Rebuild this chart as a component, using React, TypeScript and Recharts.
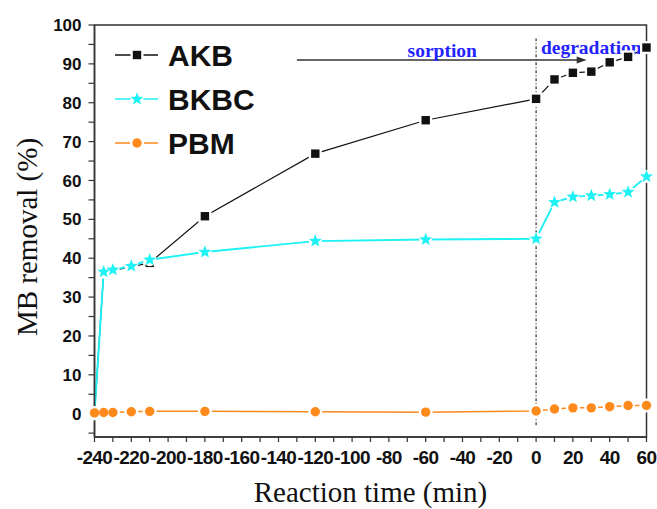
import React from 'react'
import {
  Legend,
  Line,
  LineChart,
  ReferenceArea,
  ReferenceDot,
  ReferenceLine,
  XAxis,
  YAxis,
} from 'recharts'

// reaction time (min), negative = sorption in the dark, positive = degradation
const times = [-240, -235, -230, -220, -210, -180, -120, -60, 0, 10, 20, 30, 40, 50, 60]
const akb = [0, 36.5, 36.8, 37.8, 38.8, 50.8, 66.9, 75.5, 81, 86, 87.7, 88, 90.4, 91.8, 94.2]
const bkbc = [0, 36.5, 37, 38, 39.6, 41.6, 44.4, 44.8, 45, 54.4, 55.8, 56.1, 56.4, 57, 61]
const pbm = [0.2, 0.3, 0.3, 0.5, 0.6, 0.6, 0.5, 0.4, 0.7, 1.2, 1.5, 1.5, 1.8, 2.1, 2.1]

const xTicks = [-240, -230, -220, -210, -200, -190, -180, -170, -160, -150, -140, -130, -120, -110, -100, -90, -80, -70, -60, -50, -40, -30, -20, -10, 0, 10, 20, 30, 40, 50, 60]
const yTicks = [-5, 0, 5, 10, 15, 20, 25, 30, 35, 40, 45, 50, 55, 60, 65, 70, 75, 80, 85, 90, 95, 100]

const data = times.map((t, i) => ({ t, AKB: akb[i], BKBC: bkbc[i], PBM: pbm[i] }))

type Shape = 'square' | 'star' | 'circle'

const SERIES: { key: string; color: string; shape: Shape; width: number }[] = [
  { key: 'AKB', color: '#111111', shape: 'square', width: 1.2 },
  { key: 'BKBC', color: '#1ef2f5', shape: 'star', width: 1.9 },
  { key: 'PBM', color: '#ff8a1c', shape: 'circle', width: 1.5 },
]
const shapeOf: Record<string, Shape> = { AKB: 'square', BKBC: 'star', PBM: 'circle' }

const AXIS = '#333'
const TICK_FONT = { fill: '#111', fontSize: 17, fontWeight: 700, fontFamily: 'Liberation Sans, Arial, sans-serif' }
const SERIF = 'Liberation Serif, Times New Roman, serif'

function starPoints(cx: number, cy: number, R: number, r: number) {
  const pts: string[] = []
  for (let k = 0; k < 10; k++) {
    const a = -Math.PI / 2 + (k * Math.PI) / 5
    const rad = k % 2 === 0 ? R : r
    pts.push(`${cx + rad * Math.cos(a)},${cy + rad * Math.sin(a)}`)
  }
  return pts.join(' ')
}

function Halo({ shape, cx, cy }: { shape: Shape; cx: number; cy: number }) {
  if (shape === 'square') return <rect x={cx - 6.5} y={cy - 6.5} width={13} height={13} fill="#fff" />
  return <circle cx={cx} cy={cy} r={shape === 'star' ? 6.5 : 7} fill="#fff" />
}

function Marker({ shape, cx, cy, color }: { shape: Shape; cx: number; cy: number; color: string }) {
  if (shape === 'square') return <rect x={cx - 4.2} y={cy - 4.2} width={8.4} height={8.4} fill={color} />
  if (shape === 'star') return <polygon points={starPoints(cx, cy, 6.8, 2.9)} fill={color} />
  return <circle cx={cx} cy={cy} r={4.7} fill={color} />
}

const haloDot = (shape: Shape) => (p: any) => {
  if (p.cx == null || p.cy == null || p.value == null) return <g key={`h-${p.index}`} />
  return <Halo key={`h-${p.index}`} shape={shape} cx={p.cx} cy={p.cy} />
}

const markerDot = (shape: Shape, color: string) => (p: any) => {
  if (p.cx == null || p.cy == null || p.value == null) return <g key={`m-${p.index}`} />
  return <Marker key={`m-${p.index}`} shape={shape} cx={p.cx} cy={p.cy} color={color} />
}

function LegendBox({ payload }: any) {
  const seen = new Set<string>()
  const items = (payload || []).filter((e: any) => {
    if (!shapeOf[e.value] || e.type === 'none' || e.color === 'none' || seen.has(e.value)) return false
    seen.add(e.value)
    return true
  })
  return (
    <svg width={160} height={125}>
      {items.map((e: any, i: number) => {
        const y = 20 + i * 44
        return (
          <g key={e.value}>
            <line x1={5} x2={48} y1={y} y2={y} stroke={e.color} strokeWidth={1.5} />
            <Halo shape={shapeOf[e.value]} cx={27} cy={y} />
            <Marker shape={shapeOf[e.value]} cx={27} cy={y} color={e.color} />
            <text
              x={58}
              y={y + 11}
              fontSize={30}
              fontWeight={700}
              fontFamily="Liberation Sans, Arial, sans-serif"
              fill="#111"
            >
              {e.value}
            </text>
          </g>
        )
      })}
    </svg>
  )
}

function Arrow(p: any) {
  const { x1, y1, x2, y2 } = p
  return (
    <g>
      <line x1={x1} y1={y1} x2={x2 - 6} y2={y2} stroke={AXIS} strokeWidth={1.5} />
      <polygon points={`${x2},${y2} ${x2 - 10},${y2 - 3.5} ${x2 - 10},${y2 + 3.5}`} fill={AXIS} />
    </g>
  )
}

const phaseText = (txt: string) => (p: any) => (
  <text
    x={p.cx}
    y={p.cy}
    textAnchor="middle"
    dominantBaseline="central"
    fontSize={19.5}
    fontWeight={700}
    fontFamily={SERIF}
    fill="#2424ff"
  >
    {txt}
  </text>
)

export default function App() {
  return (
    <div style={{ position: 'absolute', left: 0, top: 0, width: 657, height: 509, background: '#fff' }}>
      <LineChart width={657} height={509} data={data} margin={{ top: 25, right: 10.5, bottom: 0, left: 0 }}>
        <XAxis
          dataKey="t"
          type="number"
          domain={[-240, 60]}
          ticks={xTicks}
          interval={0}
          height={72}
          tickSize={5}
          tickMargin={9}
          tickFormatter={(v: number) => (v % 20 === 0 ? String(v) : '')}
          axisLine={{ stroke: AXIS, strokeWidth: 1.5 }}
          tickLine={{ stroke: AXIS, strokeWidth: 1.2 }}
          tick={{ ...TICK_FONT, fontSize: 19, letterSpacing: -0.6 }}
          label={{
            content: (lp: any) => {
              const vb = lp.viewBox || { x: 94.5, y: 437, width: 552, height: 72 }
              return (
                <text x={vb.x + vb.width / 2} y={vb.y + vb.height - 7} textAnchor="middle" fontSize={29} fontFamily={SERIF} fill="#111">
                  Reaction time (min)
                </text>
              )
            },
          }}
        />
        <YAxis
          type="number"
          domain={[-6, 100]}
          ticks={yTicks}
          interval={0}
          width={94.5}
          tickSize={6}
          tickMargin={7}
          tickFormatter={(v: number) => (v >= 0 && v % 10 === 0 ? String(v) : '')}
          axisLine={{ stroke: AXIS, strokeWidth: 1.5 }}
          tickLine={{ stroke: AXIS, strokeWidth: 1.2 }}
          tick={TICK_FONT}
          label={{
            content: (lp: any) => {
              const vb = lp.viewBox || { x: 0, y: 25, width: 94.5, height: 412 }
              const cx = 27
              const cy = vb.y + vb.height / 2 + 6
              return (
                <text
                  x={cx}
                  y={cy}
                  transform={`rotate(-90, ${cx}, ${cy})`}
                  textAnchor="middle"
                  dominantBaseline="central"
                  fontSize={29}
                  fontFamily={SERIF}
                  fill="#111"
                >
                  MB removal (%)
                </text>
              )
            },
          }}
        />
        <ReferenceArea x1={-240} x2={60} y1={-6} y2={100} fill="none" stroke={AXIS} strokeWidth={1.5} />
        <ReferenceLine
          segment={[{ x: 0, y: -3 }, { x: 0, y: 96.5 }]}
          stroke={AXIS}
          strokeWidth={1.2}
          strokeDasharray="3 2 1 2"
        />
        <ReferenceLine segment={[{ x: -130, y: 91 }, { x: 27.5, y: 91 }]} shape={Arrow} />
        <ReferenceDot x={-51} y={93.5} r={0} shape={phaseText('sorption')} />
        <ReferenceDot x={30} y={94.2} r={0} shape={phaseText('degradation')} />
        {SERIES.flatMap((s) => [
          <Line
            key={`${s.key}-line`}
            dataKey={s.key}
            name={s.key}
            type="linear"
            stroke={s.color}
            strokeWidth={s.width}
            dot={haloDot(s.shape)}
            activeDot={false}
            isAnimationActive={false}
          />,
          <Line
            key={`${s.key}-marks`}
            dataKey={s.key}
            type="linear"
            stroke="none"
            legendType="none"
            dot={markerDot(s.shape, s.color)}
            activeDot={false}
            isAnimationActive={false}
          />,
        ])}
        <Legend
          layout="horizontal"
          verticalAlign="middle"
          align="center"
          content={LegendBox}
          wrapperStyle={{ left: 110, top: 35, width: 160, height: 125 }}
        />
      </LineChart>
    </div>
  )
}
